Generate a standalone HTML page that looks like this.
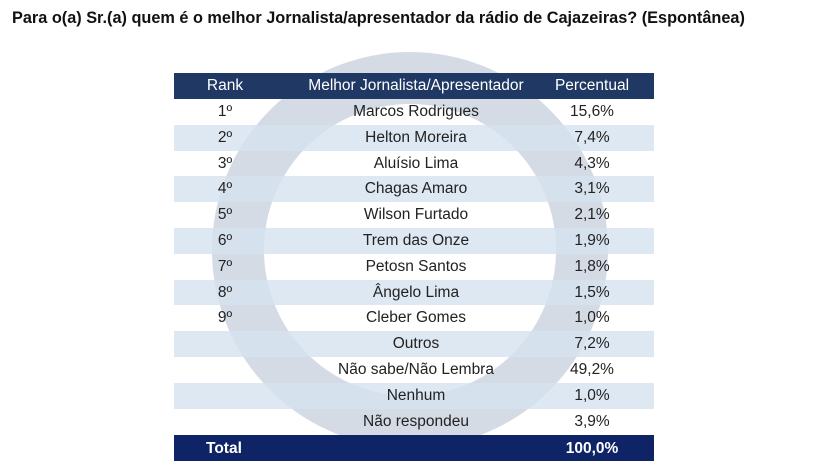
<!DOCTYPE html>
<html><head><style>
body{margin:0;width:825px;height:476px;background:#fff;position:relative;overflow:hidden;font-family:"Liberation Sans",sans-serif}
.t{position:absolute;left:12px;top:9px;white-space:nowrap;font-weight:bold;font-size:16.3px;color:#111}
.row{position:absolute;left:174px;width:480px;height:25.8px;font-size:15.5px;color:#222;line-height:25.8px}
.row span{position:absolute;text-align:center}
.a{left:0;width:102px}.b{left:102px;width:280px}.c{left:372px;width:92px}
.l{background:rgba(214,226,240,0.8)}
.h{background:#1f3864;color:#fff}
.tot{background:#0f2467;color:#fff;font-weight:bold}
</style></head><body>
<div class="t">Para o(a) Sr.(a) quem é o melhor Jornalista/apresentador da rádio de Cajazeiras? (Espontânea)</div>
<svg style="position:absolute;left:0;top:0" width="825" height="476"><circle cx="410" cy="250" r="172" fill="none" stroke="#d5dbe5" stroke-width="52"/></svg>
<div class="row h" style="top:73px"><span class="a">Rank</span><span class="b">Melhor Jornalista/Apresentador</span><span class="c">Percentual</span></div>
<div class="row" style="top:99px"><span class="a">1º</span><span class="b">Marcos Rodrigues</span><span class="c">15,6%</span></div>
<div class="row l" style="top:124.8px"><span class="a">2º</span><span class="b">Helton Moreira</span><span class="c">7,4%</span></div>
<div class="row" style="top:150.6px"><span class="a">3º</span><span class="b">Aluísio Lima</span><span class="c">4,3%</span></div>
<div class="row l" style="top:176.4px"><span class="a">4º</span><span class="b">Chagas Amaro</span><span class="c">3,1%</span></div>
<div class="row" style="top:202.2px"><span class="a">5º</span><span class="b">Wilson Furtado</span><span class="c">2,1%</span></div>
<div class="row l" style="top:228px"><span class="a">6º</span><span class="b">Trem das Onze</span><span class="c">1,9%</span></div>
<div class="row" style="top:253.8px"><span class="a">7º</span><span class="b">Petosn Santos</span><span class="c">1,8%</span></div>
<div class="row l" style="top:279.6px"><span class="a">8º</span><span class="b">Ângelo Lima</span><span class="c">1,5%</span></div>
<div class="row" style="top:305.4px"><span class="a">9º</span><span class="b">Cleber Gomes</span><span class="c">1,0%</span></div>
<div class="row l" style="top:331.2px"><span class="b">Outros</span><span class="c">7,2%</span></div>
<div class="row" style="top:357px"><span class="b">Não sabe/Não Lembra</span><span class="c">49,2%</span></div>
<div class="row l" style="top:382.8px"><span class="b">Nenhum</span><span class="c">1,0%</span></div>
<div class="row" style="top:408.6px"><span class="b">Não respondeu</span><span class="c">3,9%</span></div>
<div class="row tot" style="top:435px;height:26px;line-height:28px"><span style="left:32px">Total</span><span class="c">100,0%</span></div>
</body></html>
